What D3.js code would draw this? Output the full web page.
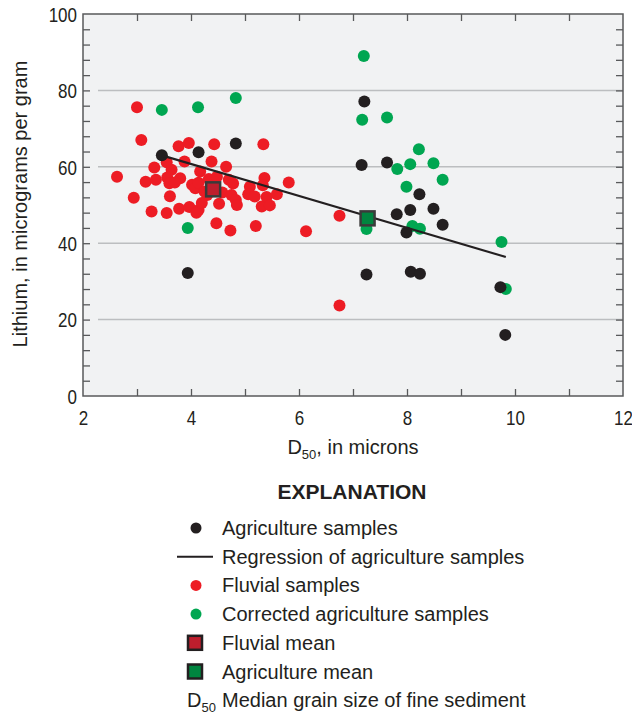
<!DOCTYPE html>
<html>
<head>
<meta charset="utf-8">
<script src="https://cdn.jsdelivr.net/npm/d3@7"></script>
<style>
  body { margin: 0; background: #fff; }
  svg text { font-family: "Liberation Sans Narrow", "Liberation Sans", Arial, sans-serif; fill: #231f20; }
</style>
</head>
<body>
<div id="chart"></div>
<script>
// fluvial samples [D50, lithium]
var fluvial = [
  [3.00,75.6],[3.08,67.0],[2.63,57.4],[2.94,51.9],[3.27,48.3],[3.55,47.9],[3.16,56.1],[3.32,59.8],
  [3.35,56.6],[3.55,61.2],[3.64,59.2],[3.56,57.2],[3.60,55.7],[3.80,57.0],[3.70,55.9],[3.61,52.3],
  [3.78,49.0],[3.97,49.5],[4.14,48.7],[4.10,48.0],[4.02,55.3],[4.08,54.4],[4.14,55.8],[4.17,58.8],
  [3.77,65.4],[3.96,66.2],[3.88,61.4],[4.25,53.5],[4.43,65.9],[4.38,61.4],[4.65,60.0],[4.70,56.6],
  [4.78,55.6],[4.33,56.8],[4.48,57.4],[4.30,52.6],[4.52,50.3],[4.58,53.3],[4.75,52.6],[4.83,51.3],
  [4.85,50.0],[4.47,45.2],[4.73,43.3],[5.09,54.8],[5.06,52.8],[5.18,52.2],[5.31,49.6],[5.36,57.1],
  [5.33,55.2],[5.40,52.1],[5.46,49.9],[5.20,44.5],[5.34,65.9],[5.59,52.8],[5.81,55.9],[6.13,43.1],
  [6.75,47.2],[6.75,23.7],[4.20,50.5]
];
var agriculture = [
  [3.46,63.0],[4.14,63.8],[4.83,66.1],[3.94,32.2],[7.21,77.1],[7.16,60.5],[7.63,61.1],[8.23,52.8],
  [7.81,47.6],[8.06,48.7],[8.49,49.0],[8.66,44.8],[7.99,42.8],[7.25,31.8],[8.07,32.5],[8.24,32.0],
  [9.73,28.5],[9.82,16.0]
];
var corrected = [
  [3.46,74.9],[4.13,75.6],[4.83,78.0],[3.94,44.0],[7.20,89.0],[7.17,72.3],[7.63,72.9],[8.22,64.6],
  [7.82,59.4],[8.06,60.7],[8.49,60.9],[8.66,56.6],[7.99,54.8],[8.10,44.5],[8.24,43.8],[7.25,43.7],
  [9.75,40.3],[9.83,28.0]
];
var regression = [[3.46,63.0],[9.83,36.4]];
var fluvialMean = [4.41,54.1];
var agricultureMean = [7.27,46.5];

var xTicks = [2,4,6,8,10,12];
var yTicks = [0,20,40,60,80,100];
var gridValues = [20,40,60,80];

var legendItems = [
  {type: "circle", color: "#231f20", label: "Agriculture samples"},
  {type: "line", color: "#231f20", label: "Regression of agriculture samples"},
  {type: "circle", color: "#ed1c24", label: "Fluvial samples"},
  {type: "circle", color: "#00a651", label: "Corrected agriculture samples"},
  {type: "square", color: "#be1e2d", label: "Fluvial mean"},
  {type: "square", color: "#00853f", label: "Agriculture mean"},
  {type: "d50", color: "", label: "Median grain size of fine sediment"}
];

var svg = d3.select("#chart").append("svg")
  .attr("width", 632)
  .attr("height", 717);

var x = d3.scaleLinear().domain([2, 12]).range([83, 623]);
var y = d3.scaleLinear().domain([0, 100]).range([396, 14]);

// plot background
svg.append("rect")
  .attr("x", x(2)).attr("y", y(100))
  .attr("width", x(12) - x(2)).attr("height", y(0) - y(100))
  .attr("fill", "#f1f2f3");

// grid lines
svg.selectAll(".grid")
  .data(gridValues)
  .enter()
  .append("line")
    .attr("x1", x(2) + 15)
    .attr("x2", x(12))
    .attr("y1", function(d) { return y(d); })
    .attr("y2", function(d) { return y(d); })
    .attr("stroke", "#bcbec0")
    .attr("stroke-width", 1.5);

// inward ticks on all four sides
function tickAxis(axis) {
  return function(g) {
    g.call(axis);
    g.select(".domain").remove();
    g.selectAll("line").attr("stroke", "#58595b").attr("stroke-width", 1.3);
    g.selectAll("text").remove();
  };
}
svg.append("g").attr("transform", "translate(0," + y(0) + ")")
  .call(tickAxis(d3.axisBottom(x).tickValues(d3.range(3, 12, 1)).tickSize(-7)));
svg.append("g").attr("transform", "translate(0," + y(100) + ")")
  .call(tickAxis(d3.axisTop(x).tickValues(d3.range(3, 12, 1)).tickSize(-7)));
svg.append("g").attr("transform", "translate(" + x(2) + ",0)")
  .call(tickAxis(d3.axisLeft(y).tickValues(d3.range(4, 100, 4)).tickSize(-7)));
svg.append("g").attr("transform", "translate(" + x(12) + ",0)")
  .call(tickAxis(d3.axisRight(y).tickValues(d3.range(4, 100, 4)).tickSize(-7)));

// frame
svg.append("rect")
  .attr("x", x(2)).attr("y", y(100))
  .attr("width", x(12) - x(2)).attr("height", y(0) - y(100))
  .attr("fill", "none")
  .attr("stroke", "#58595b")
  .attr("stroke-width", 1.5);

// tick labels (squeezed a bit to look condensed)
var xLab = svg.append("g").attr("transform", "translate(0," + (y(0) + 29) + ")")
  .call(d3.axisBottom(x).tickValues(xTicks).tickSize(0).tickPadding(0));
xLab.select(".domain").remove();
xLab.selectAll("text").attr("dy", 0).attr("y", 0).attr("transform", "scale(0.85,1)")
  .style("font-size", "20px").attr("font-family", null);

var yLab = svg.append("g").attr("transform", "translate(" + (x(2) - 6) + ",0)")
  .call(d3.axisLeft(y).tickValues(yTicks).tickSize(0).tickPadding(0));
yLab.select(".domain").remove();
yLab.selectAll("text").attr("dy", "0.36em").attr("x", 0).attr("transform", "scale(0.85,1)")
  .style("font-size", "20px").attr("font-family", null);

// axis titles
var xt = svg.append("text")
  .attr("x", 353).attr("y", 454)
  .attr("text-anchor", "middle")
  .style("font-size", "20px");
xt.append("tspan").text("D");
xt.append("tspan").attr("dy", 5).style("font-size", "13px").text("50");
xt.append("tspan").attr("dy", -5).text(", in microns");

svg.append("text")
  .attr("transform", "translate(27,204)rotate(-90)")
  .attr("text-anchor", "middle")
  .style("font-size", "20px")
  .text("Lithium, in micrograms per gram");

// points
function drawPoints(data, color) {
  svg.append("g").selectAll("circle")
    .data(data)
    .enter()
    .append("circle")
      .attr("cx", function(d) { return x(d[0]); })
      .attr("cy", function(d) { return y(d[1]); })
      .attr("r", 6)
      .attr("fill", color);
}
drawPoints(fluvial, "#ed1c24");
drawPoints(corrected, "#00a651");
drawPoints(agriculture, "#231f20");

// regression line
svg.append("path")
  .datum(regression)
  .attr("d", d3.line().x(function(d) { return x(d[0]); }).y(function(d) { return y(d[1]); }))
  .attr("stroke", "#231f20")
  .attr("stroke-width", 2.2)
  .attr("fill", "none");

// means
[[fluvialMean, "#be1e2d"], [agricultureMean, "#00853f"]].forEach(function(m) {
  svg.append("rect")
    .attr("x", x(m[0][0]) - 7).attr("y", y(m[0][1]) - 7)
    .attr("width", 14).attr("height", 14)
    .attr("fill", m[1])
    .attr("stroke", "#3a3a3a")
    .attr("stroke-width", 2.5);
});

// legend
svg.append("text")
  .attr("x", 352).attr("y", 499)
  .attr("text-anchor", "middle")
  .style("font-size", "21px")
  .style("font-weight", "bold")
  .text("EXPLANATION");

var leg = svg.append("g");
legendItems.forEach(function(d, i) {
  var cy = 528 + i * 28.7;
  if (d.type === "circle") {
    leg.append("circle").attr("cx", 196).attr("cy", cy).attr("r", 5.5).attr("fill", d.color);
  } else if (d.type === "line") {
    leg.append("line").attr("x1", 177).attr("x2", 213).attr("y1", cy).attr("y2", cy)
      .attr("stroke", d.color).attr("stroke-width", 2);
  } else if (d.type === "square") {
    leg.append("rect").attr("x", 188).attr("y", cy - 7).attr("width", 14).attr("height", 14)
      .attr("fill", d.color).attr("stroke", "#231f20").attr("stroke-width", 2.5);
  } else {
    var t = leg.append("text").attr("x", 187).attr("y", cy + 7).style("font-size", "20px");
    t.append("tspan").text("D");
    t.append("tspan").attr("dy", 5).style("font-size", "13px").text("50");
  }
  leg.append("text")
    .attr("x", 222).attr("y", cy + 7)
    .style("font-size", "20px")
    .text(d.label);
});
</script>
</body>
</html>
